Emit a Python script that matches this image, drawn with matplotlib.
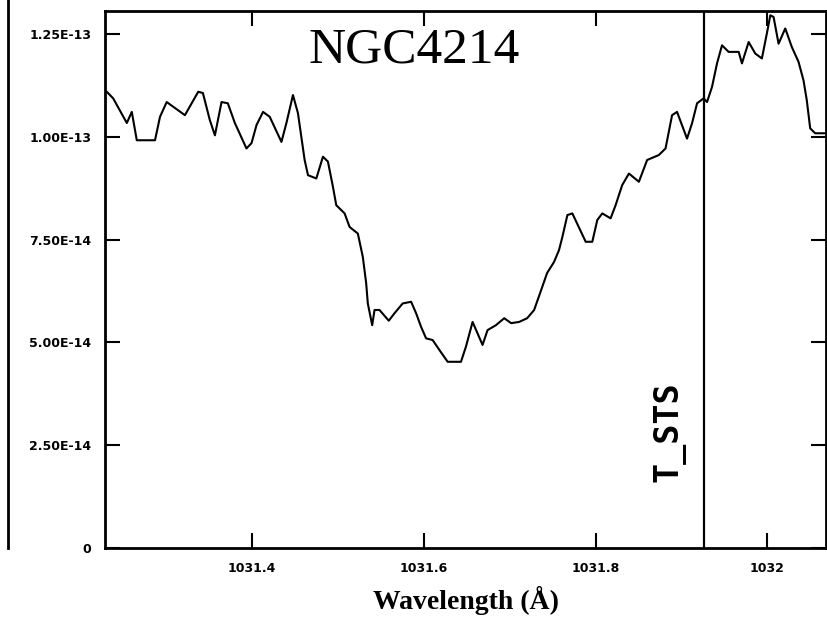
import numpy as np
import matplotlib.pyplot as plt
from matplotlib.lines import Line2D

# wavelength (A) and flux (units of 1e-14)
wave = [1031.2313, 1031.2387, 1031.2546, 1031.2604, 1031.2662, 1031.2874, 1031.2932, 1031.3010,
        1031.3222, 1031.3377, 1031.3431, 1031.3512, 1031.3571, 1031.3648, 1031.3721, 1031.3803,
        1031.3938, 1031.3997, 1031.4055, 1031.4131, 1031.4209, 1031.4345, 1031.4403, 1031.4479,
        1031.4537, 1031.4615, 1031.4654, 1031.4751, 1031.4828, 1031.4886, 1031.4944, 1031.4983,
        1031.5080, 1031.5138, 1031.5234, 1031.5292, 1031.5331, 1031.5350, 1031.5401, 1031.5428,
        1031.5486, 1031.5594, 1031.5660, 1031.5756, 1031.5854, 1031.5912, 1031.5970, 1031.6028,
        1031.6104, 1031.6182, 1031.6279, 1031.6434, 1031.6492, 1031.6569, 1031.6627, 1031.6685,
        1031.6743, 1031.6840, 1031.6937, 1031.7018, 1031.7111, 1031.7204, 1031.7285, 1031.7366,
        1031.7436, 1031.7517, 1031.7575, 1031.7614, 1031.7672, 1031.7730, 1031.7885, 1031.7962,
        1031.8020, 1031.8078, 1031.8175, 1031.8233, 1031.8310, 1031.8388, 1031.8504, 1031.8600,
        1031.8736, 1031.8814, 1031.8890, 1031.8948, 1031.9064, 1031.9122, 1031.9181, 1031.9258,
        1031.9297, 1031.9355, 1031.9413, 1031.9471, 1031.9548, 1031.9665, 1031.9703, 1031.9781,
        1031.9858, 1031.9935, 1031.9993, 1032.0033, 1032.0071, 1032.0129, 1032.0207, 1032.0283,
        1032.0361, 1032.0419, 1032.0457, 1032.0497, 1032.0555, 1032.0671]
flux = [11.10, 10.94, 10.34, 10.61, 9.92, 9.92, 10.49, 10.85,
        10.53, 11.10, 11.07, 10.41, 10.04, 10.85, 10.82, 10.34,
        9.72, 9.85, 10.29, 10.61, 10.49, 9.88, 10.34, 11.02,
        10.58, 9.44, 9.07, 8.99, 9.52, 9.40, 8.79, 8.34,
        8.14, 7.81, 7.65, 7.08, 6.44, 5.95, 5.42, 5.79,
        5.79, 5.53, 5.71, 5.95, 5.99, 5.71, 5.38, 5.10,
        5.06, 4.82, 4.53, 4.53, 4.90, 5.50, 5.22, 4.94,
        5.30, 5.42, 5.59, 5.47, 5.50, 5.59, 5.79, 6.27,
        6.69, 6.96, 7.25, 7.57, 8.10, 8.14, 7.45, 7.45,
        7.98, 8.14, 8.02, 8.34, 8.83, 9.11, 8.91, 9.44,
        9.56, 9.72, 10.53, 10.61, 9.96, 10.33, 10.82, 10.94,
        10.85, 11.22, 11.79, 12.23, 12.07, 12.07, 11.79, 12.31,
        12.03, 11.91, 12.52, 12.96, 12.92, 12.27, 12.64, 12.19,
        11.83, 11.38, 10.90, 10.21, 10.09, 10.09]

x_ticks = [1031.4, 1031.6, 1031.8, 1032.0]
x_ticklabels = ["1031.4", "1031.6", "1031.8", "1032"]
y_ticks = [0, 2.5e-14, 5e-14, 7.5e-14, 1e-13, 1.25e-13]
y_ticklabels = ["0", "2.50E-14", "5.00E-14", "7.50E-14", "1.00E-13", "1.25E-13"]
line_wave = 1031.926   # O VI
line_label = "T_STS"

fig = plt.figure(figsize=(8.28, 6.22), dpi=100)
ax = fig.add_axes([0.127, 0.119, 0.871, 0.863])

ax.plot(wave, np.array(flux) * 1e-14, color='k', lw=1.5)
ax.axvline(line_wave, color='k', lw=1.6)
ax.text(line_wave - 0.040, 2.82e-14, line_label, rotation=90, ha='center', va='center',
        family='DejaVu Sans Mono', fontweight='bold', fontsize=24)
ax.text(1031.589, 1.212e-13, "NGC4214", ha='center', va='center',
        family='Liberation Serif', fontsize=37)

ax.set_xlim(1031.2294, 1032.0685)
ax.set_ylim(0, 1.306e-13)
ax.set_xticks(x_ticks)
ax.set_xticklabels(x_ticklabels)
ax.set_yticks(y_ticks)
ax.set_yticklabels(y_ticklabels)
ax.tick_params(direction='in', length=11, width=1.5, top=True, right=True,
               labelsize=9, pad=10)
for lab in ax.get_xticklabels() + ax.get_yticklabels():
    lab.set_fontweight('bold')
for s in ax.spines.values():
    s.set_linewidth(2)

ax.set_xlabel("Wavelength (Å)", family='Liberation Serif', fontweight='bold',
              fontsize=20, labelpad=8)

# frame line at far left of the page
fig.add_artist(Line2D([0.0097, 0.0097], [0.119, 1.0], color='k', lw=2))

fig.savefig("out.png", dpi=100)
